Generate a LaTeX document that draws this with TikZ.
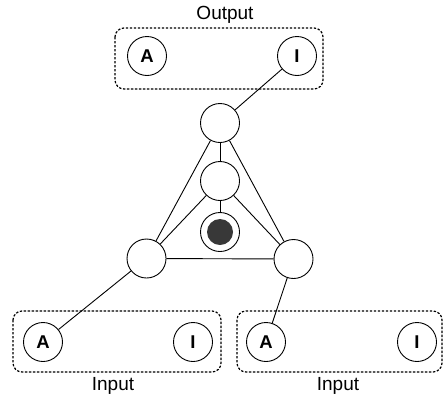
\documentclass[tikz,border=0pt]{standalone}
\usepackage{fontspec}
\setmainfont{Liberation Sans}
\begin{document}
\begin{tikzpicture}[x=1pt,y=-1pt,
  unit/.style={circle,draw,line width=0.9pt,minimum size=39pt,inner sep=0pt,font=\bfseries\fontsize{18.5}{18.5}\selectfont},
  group/.style={draw,line width=1.2pt,dash pattern=on 2.4pt off 1.6pt,rounded corners=9pt},
  link/.style={line width=0.9pt},
  caption/.style={font=\fontsize{19}{19}\selectfont}]
\useasboundingbox (0,0) rectangle (443,397);
% groups of units
\draw[group] (115,28) rectangle (323,89);
\draw[group] (13,311) rectangle (221,372);
\draw[group] (237,311) rectangle (442,372);
\node[caption] (out) at (225,15) {Output};
\node[caption] (in1) at (113,386) {Input};
\node[caption] (in2) at (338,386) {Input};
% units inside the groups
\node[unit] (oa) at (147,56) {A};
\node[unit] (oi) at (297,56) {I};
\node[unit] (la) at (43,342) {A};
\node[unit] (li) at (193,342) {I};
\node[unit] (ra) at (266,342) {A};
\node[unit] (ri) at (417,342) {I};
% central triangle
\node[unit] (top) at (220,123) {};
\node[unit] (mid) at (220,181) {};
\node[unit] (bl) at (146.5,258.5) {};
\node[unit] (br) at (293.5,259) {};
\node[unit] (core) at (220,232) {};
\fill[black!78] (core.center) circle (13pt);
% connections
\draw[link] (top) -- (oi);
\draw[link] (bl) -- (la);
\draw[link] (br) -- (ra);
\draw[link] (top) -- (bl);
\draw[link] (top) -- (br);
\draw[link] (bl) -- (br);
\draw[link] (top) -- (mid);
\draw[link] (mid) -- (bl);
\draw[link] (mid) -- (br);
\draw[link] (mid) -- (core);
\end{tikzpicture}
\end{document}
